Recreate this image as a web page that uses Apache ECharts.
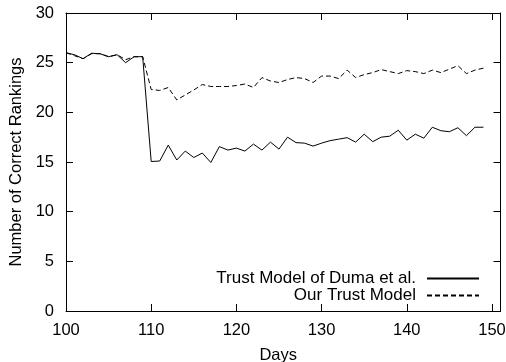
<!DOCTYPE html>
<html>
<head>
<meta charset="utf-8">
<script src="https://cdn.jsdelivr.net/npm/echarts@6/dist/echarts.min.js"></script>
<style>html,body{margin:0;padding:0;background:#fff}#c{width:506px;height:362px}</style>
</head>
<body>
<div id="c"></div>
<script>
var days = [];
for (var d = 100; d <= 149; d++) days.push(d);
var dumaValues = [26.0,25.8,25.4,25.95,25.9,25.6,25.8,25.0,25.6,25.6,
  15.05,15.1,16.7,15.2,16.1,15.45,15.9,14.95,16.55,16.2,
  16.4,16.1,16.8,16.2,17.0,16.3,17.5,16.95,16.9,16.6,
  16.9,17.15,17.3,17.45,17.0,17.8,17.05,17.5,17.6,18.2,
  17.2,17.8,17.4,18.5,18.15,18.05,18.45,17.65,18.5,18.5];
var ourValues = [26.0,25.7,25.4,25.9,25.9,25.6,25.8,25.3,25.6,25.6,
  22.3,22.2,22.5,21.25,21.75,22.25,22.8,22.6,22.6,22.6,
  22.7,22.85,22.5,23.5,23.15,23.0,23.3,23.5,23.4,23.0,
  23.65,23.65,23.4,24.25,23.5,23.8,24.0,24.3,24.1,23.9,
  24.2,24.1,23.9,24.25,24.0,24.35,24.7,23.9,24.25,24.45];
var seriesNames = ['Trust Model of Duma et al.', 'Our Trust Model'];
var xTickLabels = ['100','110','120','130','140','150'];
var yTickLabels = ['0','5','10','15','20','25','30'];

function pairs(vals){ return days.map(function(d,i){ return [d, vals[i]]; }); }
var font = 'Liberation Sans, Arial, Helvetica, sans-serif';
var black = '#000';
var fs = 16.5;
var chart = echarts.init(document.getElementById('c'), null, {renderer:'canvas'});
var axisCommon = {
  axisLine:{show:true, onZero:false, lineStyle:{color:black, width:1}},
  axisTick:{show:true, inside:true, length:7, lineStyle:{color:black, width:1}},
  splitLine:{show:false}
};
chart.setOption({
  animation:false,
  backgroundColor:'#fff',
  grid:{left:66, right:5.5, top:13, bottom:51, containLabel:false, outerBoundsMode:'none'},
  legend:{
    orient:'vertical', right:26, top:270, align:'right', padding:0,
    itemWidth:52, itemHeight:14, itemGap:0,
    itemStyle:{color:'transparent', borderWidth:0, opacity:0},
    textStyle:{fontFamily:font, fontSize:17, color:black, lineHeight:14, padding:[0,6,0,0]},
    data:seriesNames
  },
  xAxis:[
    Object.assign({type:'value', position:'bottom', min:100, max:151, interval:10,
      name:'Days', nameLocation:'middle', nameGap:36,
      nameTextStyle:{fontFamily:font, fontSize:fs, color:black, padding:[0,10,0,0]},
      axisLabel:{fontFamily:font, fontSize:fs, color:black, margin:11, showMaxLabel:false,
        formatter:function(v){ var i = xTickLabels.indexOf(String(v)); return i>=0 ? xTickLabels[i] : ''; }}
    }, axisCommon),
    Object.assign({type:'value', position:'top', min:100, max:151, interval:10,
      axisLabel:{show:false}}, axisCommon)
  ],
  yAxis:[
    Object.assign({type:'value', position:'left', min:0, max:30, interval:5,
      name:'Number of Correct Rankings', nameLocation:'middle', nameGap:21,
      nameTextStyle:{fontFamily:font, fontSize:fs, color:black},
      axisLabel:{fontFamily:font, fontSize:fs, color:black, margin:12,
        formatter:function(v){ var i = yTickLabels.indexOf(String(v)); return i>=0 ? yTickLabels[i] : ''; }}
    }, axisCommon),
    Object.assign({type:'value', position:'right', min:0, max:30, interval:5,
      axisLabel:{show:false}}, axisCommon)
  ],
  series:[
    {name:seriesNames[0], type:'line', xAxisIndex:0, yAxisIndex:0, data:pairs(dumaValues),
      symbol:'none', showSymbol:false, lineStyle:{color:black, width:1, type:'solid'},
      itemStyle:{color:black}},
    {name:seriesNames[1], type:'line', xAxisIndex:0, yAxisIndex:0, data:pairs(ourValues),
      symbol:'none', showSymbol:false, lineStyle:{color:black, width:1, type:[5,3]},
      itemStyle:{color:black}}
  ]
});
</script>
</body>
</html>
